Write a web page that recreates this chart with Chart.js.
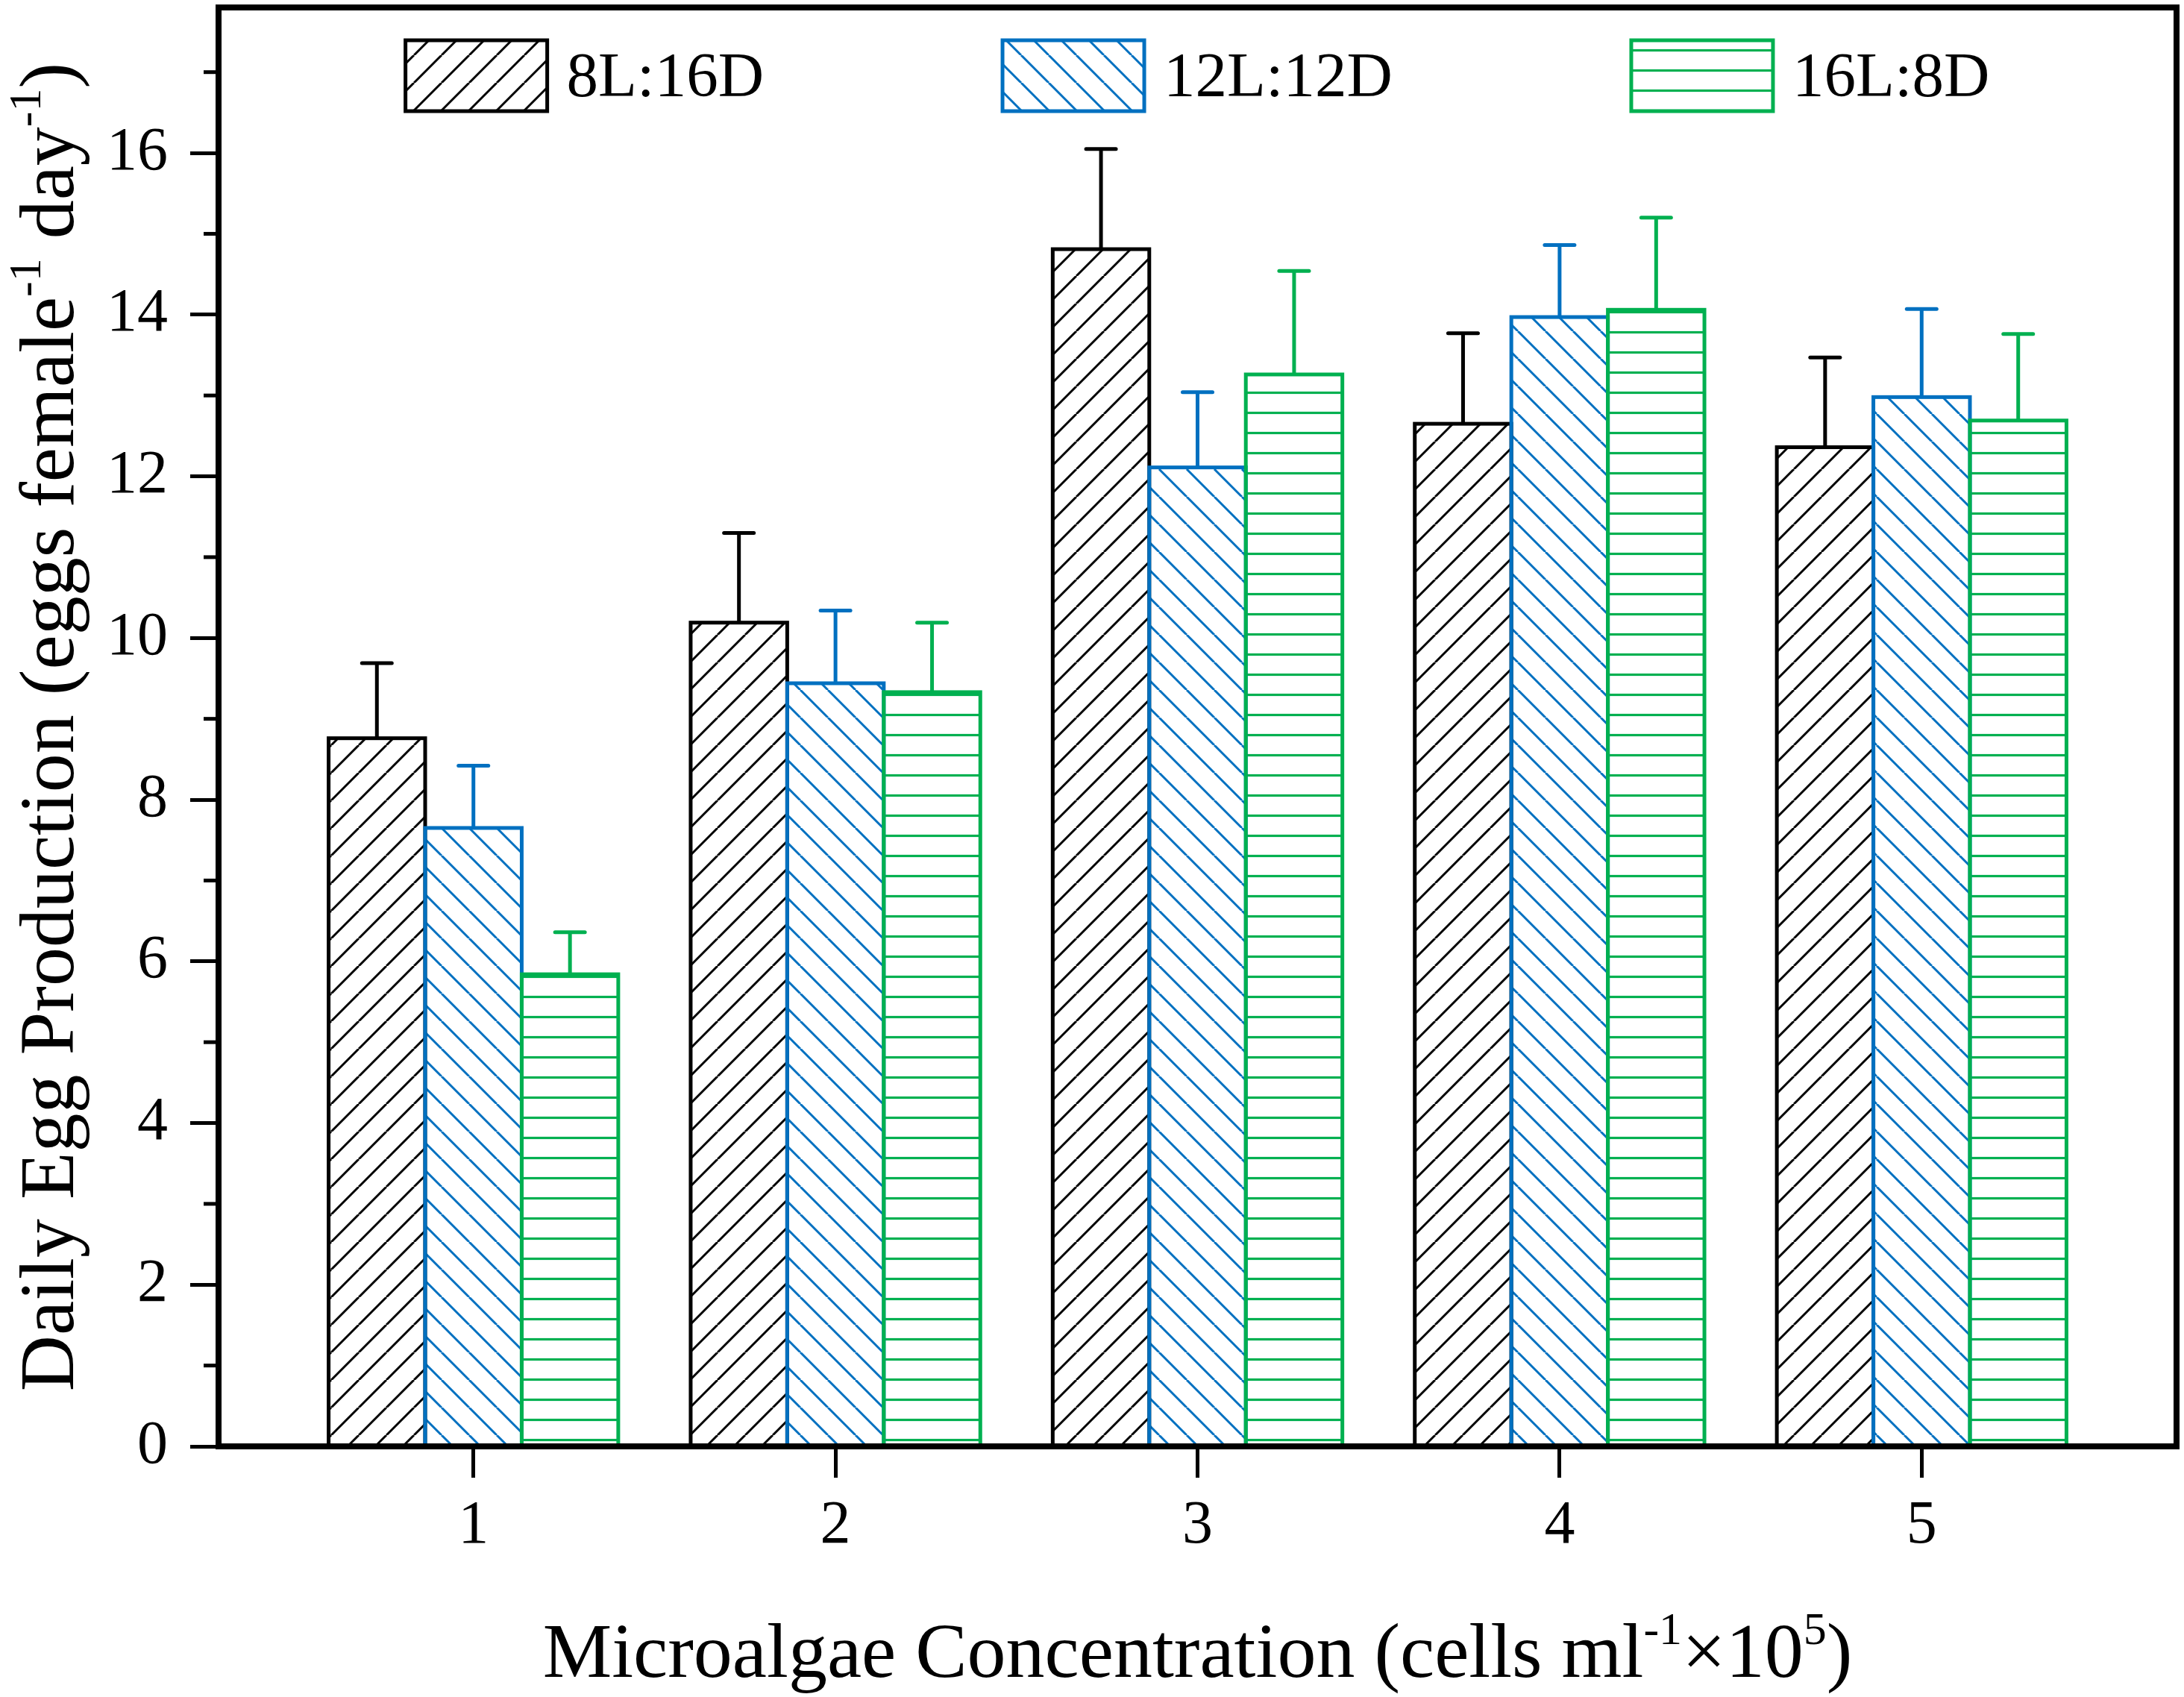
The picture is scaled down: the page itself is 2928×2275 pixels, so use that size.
<!DOCTYPE html>
<html>
<head>
<meta charset="utf-8">
<title>Daily Egg Production</title>
<script src="https://cdn.jsdelivr.net/npm/chart.js@4.4.1/dist/chart.umd.min.js"></script>
<style>
  html, body { margin: 0; padding: 0; background: #fff; }
  #wrap { width: 2928px; height: 2275px; }
</style>
</head>
<body>
<div id="wrap"><canvas id="eggChart"></canvas></div>
<script>
// data
const categories = [1, 2, 3, 4, 5];
const seriesNames = ["8L:16D", "12L:12D", "16L:8D"];
const eggs8L16D = [8.76, 10.19, 14.81, 12.65, 12.36];
const err8L16D = [0.93, 1.11, 1.24, 1.12, 1.11];
const eggs12L12D = [7.65, 9.44, 12.11, 13.97, 12.98];
const err12L12D = [0.77, 0.90, 0.93, 0.89, 1.09];
const eggs16L8D = [5.84, 9.33, 13.26, 14.06, 12.69];
const err16L8D = [0.52, 0.86, 1.28, 1.14, 1.07];
const xTicks = [1, 2, 3, 4, 5];
const yTicks = [0, 2, 4, 6, 8, 10, 12, 14, 16];
const yMinorTicks = [1, 3, 5, 7, 9, 11, 13, 15, 17];

const FONT = "'Liberation Serif', 'Times New Roman', serif";
const BLACK = "#000000";
const BLUE = "#0070C0";
const GREEN = "#00B050";

// hatch fill, white ground
function makeHatch(kind, color, step, lw) {
  const c = document.createElement("canvas");
  c.width = step;
  c.height = step;
  const g = c.getContext("2d");
  g.fillStyle = "#fff";
  g.fillRect(0, 0, step, step);
  g.strokeStyle = color;
  g.lineWidth = lw;
  g.beginPath();
  if (kind === "horizontal") {
    g.moveTo(0, step / 2);
    g.lineTo(step, step / 2);
  } else {
    for (let k = -1; k <= 1; k++) {
      if (kind === "slash") {
        g.moveTo(k * step, step);
        g.lineTo((k + 1) * step, 0);
      } else {
        g.moveTo(k * step, 0);
        g.lineTo((k + 1) * step, step);
      }
    }
  }
  g.stroke();
  return g.createPattern(c, "repeat");
}

function toPoints(values) {
  return values.map((v, i) => ({ x: categories[i], y: v }));
}

// rich text with superscripts, parts: [{t, sup}]
function drawRich(ctx, parts, size, cx, baseline) {
  const supSize = Math.round(size * 0.6);
  let total = 0;
  parts.forEach((p) => {
    ctx.font = (p.sup ? supSize : size) + "px " + FONT;
    p.w = ctx.measureText(p.t).width;
    total += p.w;
  });
  let x = cx - total / 2;
  ctx.textAlign = "left";
  ctx.textBaseline = "alphabetic";
  parts.forEach((p) => {
    ctx.font = (p.sup ? supSize : size) + "px " + FONT;
    ctx.fillText(p.t, x, p.sup ? baseline - size * 0.42 : baseline);
    x += p.w;
  });
}

const framePlugin = {
  id: "frameAndErrors",
  afterDatasetsDraw(chart) {
    const { ctx, chartArea, scales } = chart;
    const yScale = scales.y;
    ctx.save();

    // bar outlines and error bars
    chart.data.datasets.forEach((ds, i) => {
      const meta = chart.getDatasetMeta(i);
      ctx.strokeStyle = ds.edgeColor;
      meta.data.forEach((bar, j) => {
        const p = bar.getProps(["x", "y", "base", "width"], true);
        ctx.lineWidth = 5;
        ctx.lineCap = "butt";
        ctx.strokeRect(p.x - p.width / 2, p.y, p.width, p.base - p.y);

        const top = yScale.getPixelForValue(ds.data[j].y + ds.errors[j]);
        ctx.beginPath();
        ctx.moveTo(p.x, p.y);
        ctx.lineTo(p.x, top);
        ctx.stroke();
        ctx.lineCap = "round";
        ctx.beginPath();
        ctx.moveTo(p.x - 20, top);
        ctx.lineTo(p.x + 20, top);
        ctx.stroke();
      });
    });

    // minor ticks on y
    ctx.strokeStyle = "#000";
    ctx.lineWidth = 5;
    ctx.lineCap = "butt";
    yMinorTicks.forEach((v) => {
      const py = yScale.getPixelForValue(v);
      ctx.beginPath();
      ctx.moveTo(chartArea.left - 20, py);
      ctx.lineTo(chartArea.left, py);
      ctx.stroke();
    });

    // frame
    ctx.lineWidth = 8;
    ctx.strokeRect(chartArea.left, chartArea.top,
      chartArea.right - chartArea.left, chartArea.bottom - chartArea.top);
    ctx.restore();
  },
  afterDraw(chart) {
    const { ctx, chartArea } = chart;
    const midX = (chartArea.left + chartArea.right) / 2;
    const midY = (chartArea.top + chartArea.bottom) / 2;
    ctx.save();
    ctx.fillStyle = "#000";

    // legend
    const boxW = 190, boxH = 95, gap = 26, itemGap = 320, legendSize = 85;
    ctx.font = legendSize + "px " + FONT;
    const items = chart.data.datasets.map((ds) => ({
      ds, textW: ctx.measureText(ds.label).width,
    }));
    const totalW = items.reduce((s, it) => s + boxW + gap + it.textW, 0) + itemGap * (items.length - 1);
    let lx = midX - totalW / 2;
    const boxTop = chartArea.top + 44;
    items.forEach((it) => {
      ctx.fillStyle = it.ds.backgroundColor;
      ctx.fillRect(lx, boxTop, boxW, boxH);
      ctx.strokeStyle = it.ds.edgeColor;
      ctx.lineWidth = 5;
      ctx.strokeRect(lx, boxTop, boxW, boxH);
      ctx.fillStyle = "#000";
      ctx.font = legendSize + "px " + FONT;
      ctx.textAlign = "left";
      ctx.textBaseline = "alphabetic";
      ctx.fillText(it.ds.label, lx + boxW + gap, boxTop + 75);
      lx += boxW + gap + it.textW + itemGap;
    });

    // axis titles
    drawRich(ctx, [
      { t: "Microalgae Concentration (cells ml" },
      { t: "-1", sup: true },
      { t: "\u00d710" },
      { t: "5", sup: true },
      { t: ")" },
    ], 104, midX, 2248);

    ctx.translate(98, midY);
    ctx.rotate(-Math.PI / 2);
    drawRich(ctx, [
      { t: "Daily Egg Production (eggs female" },
      { t: "-1", sup: true },
      { t: " day" },
      { t: "-1", sup: true },
      { t: ")" },
    ], 104, 0, 0);
    ctx.restore();
  },
};

const tickFont = { family: FONT, size: 82 };

function noPadding(s) {
  s.paddingTop = 0;
  s.paddingBottom = 0;
  s.paddingLeft = 0;
  s.paddingRight = 0;
}

const ctx = document.getElementById("eggChart").getContext("2d");
const eggChart = new Chart(ctx, {
  type: "bar",
  data: {
    datasets: [
      {
        label: seriesNames[0],
        data: toPoints(eggs8L16D),
        errors: err8L16D,
        edgeColor: BLACK,
        backgroundColor: makeHatch("slash", BLACK, 37, 3),
        borderWidth: 0,
      },
      {
        label: seriesNames[1],
        data: toPoints(eggs12L12D),
        errors: err12L12D,
        edgeColor: BLUE,
        backgroundColor: makeHatch("backslash", BLUE, 37, 3),
        borderWidth: 0,
      },
      {
        label: seriesNames[2],
        data: toPoints(eggs16L8D),
        errors: err16L8D,
        edgeColor: GREEN,
        backgroundColor: makeHatch("horizontal", GREEN, 27, 3.2),
        borderWidth: 0,
      },
    ],
  },
  options: {
    responsive: true,
    maintainAspectRatio: false,
    devicePixelRatio: 1,
    animation: false,
    categoryPercentage: 0.8,
    barPercentage: 1.0,
    layout: { padding: { top: 10, right: 10, left: 0, bottom: 0 } },
    plugins: {
      legend: { display: false },
      tooltip: { enabled: false },
    },
    scales: {
      x: {
        type: "linear",
        offset: false,
        min: 0.296,
        max: 5.704,
        afterBuildTicks: (s) => { s.ticks = xTicks.map((v) => ({ value: v })); },
        afterFit: (s) => { s.height = 336; noPadding(s); },
        border: { display: false },
        grid: {
          offset: false,
          drawOnChartArea: false,
          tickLength: 42,
          tickWidth: 5,
          tickColor: "#000",
        },
        ticks: {
          font: tickFont,
          color: "#000",
          padding: 16,
          maxRotation: 0,
          autoSkip: false,
        },
      },
      y: {
        min: 0,
        max: 17.8,
        afterBuildTicks: (s) => { s.ticks = yTicks.map((v) => ({ value: v })); },
        afterFit: (s) => { s.width = 293; noPadding(s); },
        border: { display: false },
        grid: {
          drawOnChartArea: false,
          tickLength: 38,
          tickWidth: 5,
          tickColor: "#000",
        },
        ticks: {
          font: tickFont,
          color: "#000",
          padding: 30,
        },
      },
    },
  },
  plugins: [framePlugin],
});
</script>
</body>
</html>
